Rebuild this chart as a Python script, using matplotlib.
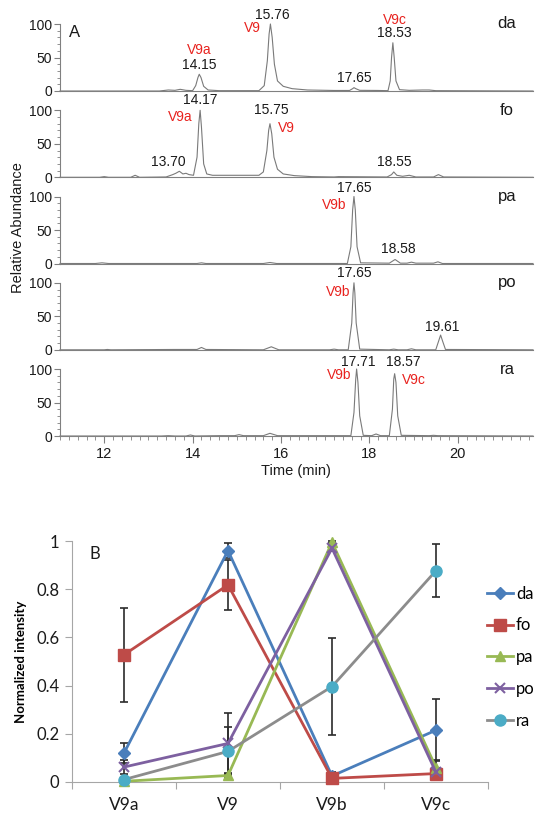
import matplotlib
matplotlib.use('Agg')
import matplotlib.pyplot as plt
from matplotlib.ticker import MultipleLocator, FixedLocator, NullFormatter

W, H = 543, 824
fig = plt.figure(figsize=(W / 100, H / 100), dpi=100)

# ---------------- Panel A data: chromatogram traces (time, relative abundance) ----------------
da_t = [11.0, 13.25, 13.45, 13.6, 13.72, 13.85, 14.0, 14.07, 14.12, 14.15, 14.19, 14.25, 14.35, 14.6,
        15.5, 15.62, 15.69, 15.73, 15.76, 15.8, 15.85, 15.92, 16.05, 16.25, 16.6, 17.2, 17.55, 17.62,
        17.65, 17.69, 17.78, 18.2, 18.42, 18.47, 18.5, 18.53, 18.56, 18.6, 18.68, 18.9, 19.2, 19.35,
        19.5, 21.7]
da_y = [0, 0, 1.5, 1.0, 2.5, 1.0, 0.5, 8, 20, 25, 20, 7, 1.5, 0.5,
        0.5, 8, 45, 85, 100, 80, 40, 15, 7, 3.5, 1.5, 0.8, 0.8, 3.5,
        5, 3.5, 1, 0.8, 0.5, 15, 50, 72, 50, 15, 2, 1, 1.5, 1.5,
        0.5, 0]

fo_t = [11.0, 11.9, 12.0, 12.1, 12.6, 12.7, 12.8, 13.4, 13.55, 13.62, 13.7, 13.78, 13.85, 13.92,
        14.02, 14.1, 14.14, 14.17, 14.2, 14.25, 14.32, 14.45, 15.0, 15.5, 15.6, 15.68, 15.72, 15.75,
        15.79, 15.84, 15.92, 16.05, 16.3, 16.7, 17.2, 17.3, 18.4, 18.5, 18.55, 18.62, 18.75, 18.9,
        19.05, 19.45, 19.56, 19.68, 21.7]
fo_y = [0, 0, 1, 0, 0, 3, 0, 0.5, 4, 6, 9, 5, 6, 4,
        3, 30, 80, 100, 75, 20, 5, 3, 3, 3, 8, 40, 70, 80,
        65, 30, 12, 5, 2.5, 1, 0.5, 1, 0.5, 4, 8, 3, 1.5, 3,
        0.5, 0.5, 4, 0.5, 0]

pa_t = [11.0, 11.8, 11.95, 12.1, 14.1, 14.2, 14.3, 15.6, 15.75, 15.9, 17.5, 17.58, 17.62, 17.65,
        17.68, 17.72, 17.8, 18.45, 18.58, 18.7, 18.85, 18.95, 19.05, 19.45, 19.55, 19.65, 21.7]
pa_y = [0, 0, 1, 0, 0, 1, 0, 0, 1.5, 0, 0, 25, 80, 100,
        80, 25, 1, 0.5, 6, 0.5, 0.5, 2, 0.5, 0.5, 2.5, 0, 0]

po_t = [11.0, 12.0, 12.07, 12.15, 13.6, 14.0, 14.1, 14.2, 14.3, 15.6, 15.78, 15.95, 17.1, 17.2,
        17.3, 17.52, 17.6, 17.63, 17.65, 17.67, 17.7, 17.78, 18.45, 18.55, 18.65, 18.85, 18.95,
        19.05, 19.5, 19.56, 19.61, 19.66, 19.72, 21.7]
po_y = [0, 0, 0.5, 0, 0.5, 0.5, 0.5, 3.5, 0.5, 0, 4.5, 0, 0, 1,
        0, 0, 40, 85, 100, 85, 40, 1, 0, 1, 0, 0, 1.5,
        0, 0, 12, 22, 12, 0.5, 0]

ra_t = [11.0, 13.3, 13.45, 13.6, 13.85, 13.95, 14.05, 14.6, 14.95, 15.05, 15.15, 15.6, 15.75, 15.92,
        17.58, 17.65, 17.69, 17.71, 17.74, 17.78, 17.86, 18.05, 18.15, 18.25, 18.45, 18.52, 18.55,
        18.57, 18.6, 18.64, 18.72, 19.35, 19.45, 19.55, 21.7]
ra_y = [0, 0, 0.5, 0, 0, 1.5, 0, 0.5, 0.5, 2, 0.5, 0.5, 4, 0.5,
        0.5, 35, 85, 100, 80, 30, 1, 0.5, 3, 0.5, 0.5, 40, 85,
        93, 80, 30, 1, 0.5, 1, 0.5, 0]

samples = ['da', 'fo', 'pa', 'po', 'ra']
traces = [(da_t, da_y), (fo_t, fo_y), (pa_t, pa_y), (po_t, po_y), (ra_t, ra_y)]

# peak annotations: (text, time, abundance, is_red)
peak_labels = [
    [('V9a', 14.15, 61, True), ('14.15', 14.15, 39, False), ('15.76', 15.80, 114, False),
     ('V9', 15.36, 94, True), ('V9c', 18.57, 106, True), ('18.53', 18.57, 87, False),
     ('17.65', 17.66, 19, False)],
    [('14.17', 14.18, 115, False), ('V9a', 13.73, 90, True), ('15.75', 15.77, 100, False),
     ('V9', 16.11, 74, True), ('13.70', 13.45, 23, False), ('18.55', 18.57, 23, False)],
    [('17.65', 17.66, 113, False), ('V9b', 17.20, 87, True), ('18.58', 18.66, 22, False)],
    [('17.65', 17.66, 115, False), ('V9b', 17.30, 86, True), ('19.61', 19.64, 34, False)],
    [('17.71', 17.75, 110, False), ('V9b', 17.32, 91, True), ('18.57', 18.77, 110, False),
     ('V9c', 19.00, 84, True)],
]

# ---------------- Panel B data ----------------
categories = ['V9a', 'V9', 'V9b', 'V9c']
da_vals = [0.12, 0.96, 0.025, 0.215]
fo_vals = [0.528, 0.818, 0.015, 0.035]
pa_vals = [0.003, 0.027, 0.995, 0.06]
po_vals = [0.062, 0.16, 0.97, 0.04]
ra_vals = [0.01, 0.127, 0.396, 0.877]
da_err = [0.042, 0.032, 0.015, 0.128]
fo_err = [0.194, 0.103, 0.01, 0.02]
pa_err = [0.005, 0.01, 0.005, 0.03]
po_err = [0.03, 0.125, 0.01, 0.02]
ra_err = [0.01, 0.1, 0.2, 0.11]

# ---------------- Draw panel A ----------------
sans = ['Liberation Sans', 'DejaVu Sans']
left_px, right_px = 60, 533
pitch = 86.25
bottoms = [91, 177.3, 263.5, 349.8, 436]
ytop = pitch / 0.67
axis_col = '#808080'

for i, (name, (tt, yy), labels) in enumerate(zip(samples, traces, peak_labels)):
    b = bottoms[i]
    ax = fig.add_axes([left_px / W, 1 - b / H, (right_px - left_px) / W, pitch / H])
    ax.plot(tt, yy, color='#7a7a7a', lw=0.8, clip_on=False)
    ax.set_xlim(11, 21.7)
    ax.set_ylim(0, ytop)
    ax.patch.set_alpha(0)
    for s in ['top', 'right']:
        ax.spines[s].set_visible(False)
    ax.spines['left'].set_bounds(0, 100)
    ax.spines['left'].set_color(axis_col)
    ax.spines['bottom'].set_color(axis_col)
    ax.spines['left'].set_linewidth(0.8)
    ax.spines['bottom'].set_linewidth(0.8)
    ax.yaxis.set_major_locator(FixedLocator([0, 50, 100]))
    ax.yaxis.set_minor_locator(FixedLocator([10, 20, 30, 40, 60, 70, 80, 90]))
    ax.tick_params(axis='y', which='major', direction='out', length=4, width=0.8, color=axis_col,
                   labelsize=10, pad=1.5, labelcolor='#1a1a1a')
    ax.tick_params(axis='y', which='minor', direction='out', length=2.5, width=0.6, color=axis_col)
    for lab in ax.get_yticklabels():
        lab.set_family(sans)
    if i < 4:
        ax.tick_params(axis='x', which='both', bottom=False, labelbottom=False)
    else:
        ax.xaxis.set_major_locator(MultipleLocator(2))
        ax.xaxis.set_minor_locator(MultipleLocator(0.2))
        ax.tick_params(axis='x', which='major', direction='out', length=5, width=0.8, color=axis_col,
                       labelsize=10.5, pad=3, labelcolor='#1a1a1a')
        ax.tick_params(axis='x', which='minor', direction='out', length=3, width=0.6, color=axis_col)
        for lab in ax.get_xticklabels():
            lab.set_family(sans)
    for txt, tx, ty, red in labels:
        ax.text(tx, ty, txt, ha='center', va='center', fontsize=10, family=sans,
                color='#e8221e' if red else '#1a1a1a', clip_on=False)
    ax.text(21.11, 100, name, ha='center', va='center', fontsize=12, family=sans, color='#1a1a1a')
    if i == 0:
        ax.text(11.2, 87, 'A', ha='left', va='center', fontsize=12, family=sans, color='#1a1a1a')

fig.text(18 / W, 1 - 228 / H, 'Relative Abundance', rotation=90, ha='center', va='center',
         fontsize=10.5, family=sans, color='#1a1a1a')
fig.text(296 / W, 1 - 471 / H, 'Time (min)', ha='center', va='center',
         fontsize=10.5, family=sans, color='#1a1a1a')

# ---------------- Draw panel B ----------------
lato = ['Lato', 'DejaVu Sans']
axb = fig.add_axes([72 / W, 1 - 782 / H, (488 - 72) / W, (782 - 541) / H])
x = list(range(len(categories)))
series = [
    ('da', da_vals, da_err, '#4A7EBB', 'D', 6.5, '#4A7EBB', '#4A7EBB', 1),
    ('fo', fo_vals, fo_err, '#BE4B48', 's', 8, '#BE4B48', '#BE4B48', 1),
    ('pa', pa_vals, pa_err, '#98B954', '^', 7.5, '#98B954', '#98B954', 1),
    ('po', po_vals, po_err, '#7D60A0', 'x', 7, '#7D60A0', '#7D60A0', 1.5),
    ('ra', ra_vals, ra_err, '#8C8C8C', 'o', 8, '#4BACC6', '#4BACC6', 1),
]
for name, vals, err, lc, mk, ms, mfc, mec, mew in series:
    axb.errorbar(x, vals, yerr=err, fmt='none', ecolor='#2b2b2b', elinewidth=1.2, capsize=3,
                 capthick=1.2, zorder=2, clip_on=False)
for name, vals, err, lc, mk, ms, mfc, mec, mew in series:
    axb.plot(x, vals, color=lc, lw=2, marker=mk, ms=ms, mfc=mfc, mec=mec, mew=mew,
             label=name, zorder=3, clip_on=False)

axb.set_xlim(-0.5, 3.5)
axb.set_ylim(0, 1)
for s in ['top', 'right']:
    axb.spines[s].set_visible(False)
bcol = '#A6A6A6'
axb.spines['left'].set_color(bcol)
axb.spines['bottom'].set_color(bcol)
axb.xaxis.set_major_locator(FixedLocator([-0.5, 0.5, 1.5, 2.5, 3.5]))
axb.xaxis.set_major_formatter(NullFormatter())
axb.xaxis.set_minor_locator(FixedLocator(x))
axb.set_xticklabels(categories, minor=True)
axb.tick_params(axis='x', which='major', direction='out', length=5, color=bcol)
axb.tick_params(axis='x', which='minor', length=0, pad=11, labelsize=12.5)
axb.set_yticks([0, 0.2, 0.4, 0.6, 0.8, 1.0])
axb.set_yticklabels(['0', '0.2', '0.4', '0.6', '0.8', '1'])
axb.tick_params(axis='y', which='major', direction='out', length=5, color=bcol, labelsize=12, pad=4)
for lab in axb.get_xticklabels(minor=True) + axb.get_yticklabels():
    lab.set_family(lato)
    lab.set_color('#1a1a1a')
axb.set_ylabel('Normalized intensity', fontsize=9.5, fontweight='bold', family=lato, labelpad=7)
axb.text(-0.33, 0.945, 'B', fontsize=12, family=lato, ha='left', va='center', color='#1a1a1a')

leg = fig.legend(loc='upper left', bbox_to_anchor=(480 / W, 1 - 579 / H), frameon=False,
                 prop={'family': lato, 'size': 12}, handlelength=1.55, handletextpad=0.2,
                 labelspacing=0.95, borderaxespad=0)

fig.savefig('out.png', dpi=100)
